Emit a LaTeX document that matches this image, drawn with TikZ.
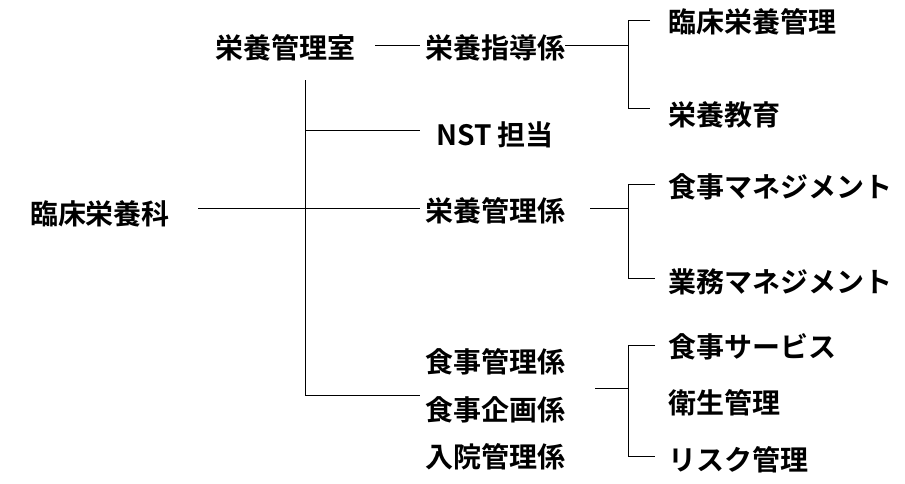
\documentclass[tikz,border=0pt]{standalone}
\usepackage{fontspec}
\setmainfont{Noto Sans CJK JP}[BoldFont=* Bold]
\usetikzlibrary{positioning}
\tikzset{lbl/.style={font=\fontsize{28}{30}\selectfont\bfseries,inner sep=0pt},
  ln/.style={line width=0.8pt}}
\begin{document}
\begin{tikzpicture}[x=1pt,y=-1pt]
\useasboundingbox (0,0) rectangle (905,483);
%labels
\node[lbl] (ka) at (100,214) {臨床栄養科};
\node[lbl] (shitsu) at (285,48) {栄養管理室};
\node[lbl] (shido) at (495,48) {栄養指導係};
\node[lbl] (nst) at (495,135) {NST 担当};
\node[lbl] (kanri) at (495,211) {栄養管理係};
\node[lbl] (shoku1) at (495,362) {食事管理係};
\node[lbl] (shoku2) at (495,410) {食事企画係};
\node[lbl] (nyuin) at (495,457) {入院管理係};
\node[lbl,anchor=west] (rinsho) at (668,22) {臨床栄養管理};
\node[lbl,anchor=west] (kyoiku) at (668,115) {栄養教育};
\node[lbl,anchor=west] (shokum) at (668,187) {食事マネジメント};
\node[lbl,anchor=west] (gyomu) at (668,282) {業務マネジメント};
\node[lbl,anchor=west] (service) at (668,347) {食事サービス};
\node[lbl,anchor=west] (eisei) at (668,403) {衛生管理};
\node[lbl,anchor=west] (risk) at (668,460) {リスク管理};
%coordinates
\coordinate (a1) at (198,208);
\coordinate (a2) at (420,208);
\coordinate (v1) at (305,80);
\coordinate (v2) at (305,395);
%lines
\draw[ln] (a1) -- (a2);
\draw[ln] (v1) -- (v2) -- (420,395);
\draw[ln] (305,130) -- (420,130);
\draw[ln] (375,45) -- (420,45);
\draw[ln] (565,45) -- (628,45);
\draw[ln] (650,20) -- (628,20) -- (628,108) -- (650,108);
\draw[ln] (590,208) -- (628,208);
\draw[ln] (655,184) -- (628,184) -- (628,278) -- (655,278);
\draw[ln] (595,388) -- (628,388);
\draw[ln] (655,345) -- (628,345) -- (628,456) -- (655,456);
\end{tikzpicture}
\end{document}
